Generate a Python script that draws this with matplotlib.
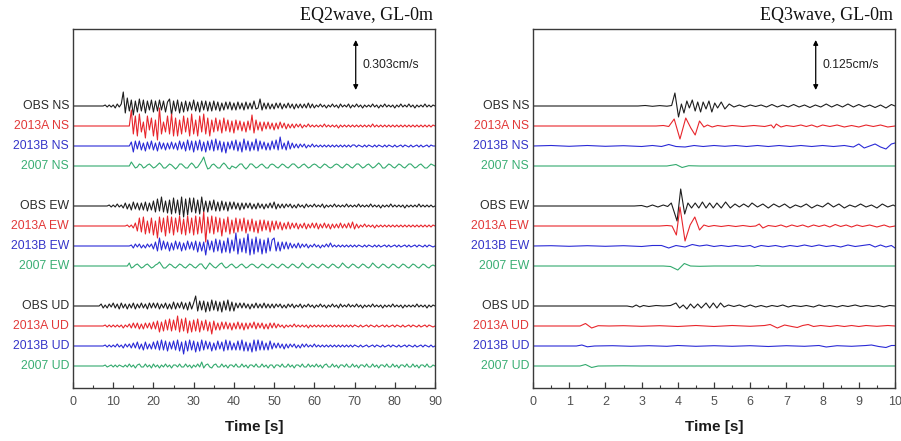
import numpy as np
import matplotlib
matplotlib.use("Agg")
import matplotlib.pyplot as plt
from matplotlib.ticker import MultipleLocator
from matplotlib.transforms import blended_transform_factory

plt.rcParams['font.family'] = ['Liberation Sans', 'DejaVu Sans']

# ---------------------------------------------------------------- data
MODELS = ['OBS', '2013A', '2013B', '2007']
COMPONENTS = ['NS', 'EW', 'UD']
TITLES = ['EQ2wave, GL-0m', 'EQ3wave, GL-0m']
SCALES_CM_S = [0.303, 0.125]          # scale-bar velocity of each panel
XMAX = [90, 10]
XTICK_STEP = [10, 1]

# EQ2: velocity sampled every 0.5 s from 0 to 90 s,
# in units of 1/50 of the 0.303 cm/s scale bar
EQ2_DT = 0.5
EQ2_OBS_NS = [
    0,0,0,0,0,0,0,0,0,0,0,0,0,0,0,0,1,-1,1,-1,
    1,-2,2,-1,2,14,-7,8,-5,6,-9,5,-6,7,-5,6,-7,5,-4,6,
    -6,5,-5,6,-4,5,-6,4,7,-9,5,-5,6,-7,4,-6,5,-5,4,-4,
    6,-5,4,-6,5,-4,5,-5,4,-5,5,-4,4,-5,3,-4,4,-3,4,-4,
    3,-4,4,-3,3,-4,4,-3,3,-3,5,-3,-2,7,-4,3,-3,3,-3,2,
    -3,3,-2,3,-3,2,-2,3,-2,2,-3,2,-2,2,-2,2,-2,3,-2,2,
    -2,1,-1,2,-1,1,-2,1,-1,2,-1,1,-2,2,-1,1,-1,2,-2,1,
    -1,2,-1,1,-2,1,-1,1,-1,2,-1,1,-2,1,-1,2,-1,1,-1,1,
    -2,1,-1,2,-1,1,-1,2,-1,1,-2,1,-1,1,-1,2,-1,1,-1,1,
    0]
EQ2_2013A_NS = [
    0,0,0,0,0,0,0,0,0,0,0,0,0,0,0,0,0,0,0,0,
    0,0,0,0,0,0,0,0,0,16,-8,10,-10,12,-6,4,-12,10,-4,8,
    -10,6,-14,18,-8,4,-6,10,-8,12,-10,8,-10,6,-8,10,-6,8,-10,12,
    -8,6,-10,10,-6,12,-8,8,-10,6,-6,8,-5,6,-7,8,-5,6,-6,5,
    -7,6,-4,5,-5,4,-6,5,-4,11,-7,6,-4,4,-5,4,-3,4,-3,3,
    -4,3,-3,4,-2,3,-3,2,-2,2,-2,2,-1,2,-2,1,-1,2,-1,1,
    -1,1,-1,1,-1,2,-1,1,-1,1,-1,1,-2,1,-1,1,-1,1,-1,1,
    -1,1,-1,1,-1,1,-1,1,-1,2,-1,1,-1,1,-1,1,-1,1,-1,1,
    -1,1,-1,1,-1,1,-1,1,-1,1,-1,1,-1,1,-1,1,-1,1,-1,1,
    0]
EQ2_2013B_NS = [
    0,0,0,0,0,0,0,0,0,0,0,0,0,0,0,0,0,0,0,0,
    0,0,0,0,0,0,0,0,0,4,-6,5,-3,5,-4,3,-5,4,-3,5,
    -4,3,-5,4,-3,3,-4,3,-3,4,-3,3,-4,5,-3,4,-5,6,-4,5,
    -6,5,-4,6,-5,4,-6,5,-4,6,-5,7,-4,5,-6,4,-7,4,-3,5,
    -4,6,-5,4,-6,7,-4,5,-5,4,-4,7,-5,5,-3,4,-4,3,-4,5,
    -3,6,-4,9,-3,3,-4,5,-3,3,-2,2,-2,2,-1,2,-2,1,-1,2,
    -1,1,-1,1,-1,1,-1,1,-1,1,-1,1,-1,1,-1,1,-1,1,-1,1,
    1,-1,1,0,-1,1,-1,1,0,-1,1,-1,1,0,-1,1,-1,1,0,-1,
    1,-1,0,1,-1,1,0,-1,1,-1,0,1,-1,1,-1,0,1,-1,1,0,
    0]
EQ2_2007_NS = [
    0,0,0,0,0,0,0,0,0,0,0,0,0,0,0,0,0,0,0,0,
    0,0,0,0,0,0,0,0,0,4,1,-2,-1,2,1,-2,-1,1,2,0,
    -2,-1,1,3,1,-2,-2,0,2,1,-1,-3,-1,2,2,0,-2,-2,1,3,
    1,-2,-1,2,5,9,2,-3,-2,1,2,0,-2,-2,1,3,1,-2,-3,0,
    -1,-2,0,2,2,-1,-3,-1,2,2,0,-2,-1,1,2,0,-2,-2,1,2,
    1,-1,-2,0,2,1,-1,-2,0,2,2,0,-2,-1,1,2,0,-2,-1,1,
    2,1,-1,-2,0,2,1,-1,-2,-1,1,2,1,-1,-2,0,2,1,-1,-2,
    0,2,2,0,-2,-1,1,2,0,-2,-1,1,3,1,-2,-2,0,2,1,-1,
    -2,0,2,1,-1,-2,0,2,2,0,-2,-1,1,2,0,-2,-2,0,2,1,
    0]
EQ2_OBS_EW = [
    0,0,0,0,0,0,0,0,0,0,0,0,0,0,0,0,0,0,1,-1,
    1,-1,2,-1,1,-2,3,-3,2,-4,4,-3,3,-4,3,-4,4,-5,3,-4,
    5,-6,7,-5,9,-6,5,-7,6,-8,8,-7,6,-9,9,-11,7,-9,8,-6,
    8,-7,6,-8,9,-6,5,-6,5,-4,6,-5,4,-5,5,-4,4,-5,4,-3,
    4,-3,3,-4,3,-3,3,-2,3,-3,2,-3,3,-2,2,-3,2,-2,3,-2,
    4,-3,2,-2,2,-2,2,-1,2,-2,1,-2,2,-1,1,-2,2,-1,1,-1,
    2,-1,1,-1,2,-2,1,-1,1,-1,2,-1,1,-1,1,-1,2,-1,1,-1,
    1,-1,2,-1,1,-1,1,-1,2,-1,1,-1,1,-2,1,-1,1,-1,2,-1,
    1,-1,1,-1,1,-2,1,-1,1,-1,1,-1,2,-1,1,-1,1,-1,1,-1,
    0]
EQ2_2013A_EW = [
    0,0,0,0,0,0,0,0,0,0,0,0,0,0,0,0,0,0,0,0,
    0,0,0,0,0,0,0,1,-1,1,-2,3,-5,8,-6,9,-8,5,-7,8,
    -9,5,-12,9,-6,8,-10,10,-7,9,-9,8,-6,10,-8,7,-9,10,-7,8,
    -9,10,-8,9,-7,14,-16,9,-7,10,-8,9,-6,8,-10,7,-6,9,-8,6,
    -7,8,-6,7,-5,8,-7,6,-5,7,-6,5,-7,6,-5,6,-4,5,-6,5,
    -4,5,-3,4,-4,3,-3,4,-3,3,-2,3,-3,2,-2,3,-3,2,-2,3,
    -2,3,-3,2,-2,3,-2,2,-3,2,-2,2,-2,3,-2,2,-2,3,-2,4,
    -3,2,-2,1,-1,2,-1,1,-1,1,-2,1,-1,1,-1,1,-1,1,-1,1,
    -1,1,-1,1,-1,1,-1,1,-1,1,-1,1,-1,1,-1,1,-1,1,-1,1,
    0]
EQ2_2013B_EW = [
    0,0,0,0,0,0,0,0,0,0,0,0,0,0,0,0,0,0,0,0,
    0,0,0,0,0,0,0,0,0,1,-2,2,-1,2,-2,1,-2,2,-1,2,
    -3,4,-5,8,-4,5,-3,4,-5,3,-4,5,-3,4,-5,3,-4,5,-3,4,
    -4,5,-6,4,-5,4,-9,6,-4,5,-6,7,-5,6,-7,5,-6,8,-7,6,
    -5,13,-8,7,-6,8,-7,12,-9,7,-8,9,-6,7,-8,6,-7,8,-5,6,
    8,-5,4,-5,4,-3,4,-3,3,-2,2,-2,3,-2,2,-1,2,-2,1,-1,
    2,-1,1,-2,1,-1,2,-1,3,-1,1,-1,1,-1,1,-1,1,-1,1,-1,
    1,-1,1,0,-1,1,-1,1,0,-1,1,-1,1,-1,0,1,-1,1,-1,0,
    1,-1,1,-1,0,1,-1,1,-1,0,1,-1,1,0,-1,1,-1,1,0,-1,
    0]
EQ2_2007_EW = [
    0,0,0,0,0,0,0,0,0,0,0,0,0,0,0,0,0,0,0,0,
    0,0,0,0,0,0,0,0,3,-2,-1,1,2,0,-2,-1,1,2,0,-2,
    -1,1,2,4,1,-2,-2,0,2,1,-1,-2,0,2,1,-1,-2,0,2,1,
    -1,-2,0,2,2,-1,-3,0,3,1,-1,-2,0,2,3,0,-2,-1,1,2,
    0,-2,-1,1,2,0,-2,-1,1,2,1,-1,-2,0,2,1,-1,-2,0,2,
    1,-1,-2,0,2,1,-1,-2,0,2,1,-1,-2,0,3,1,-1,-2,0,2,
    1,-1,-2,0,2,1,-1,-2,0,2,1,-1,-2,0,3,1,-1,-2,0,2,
    1,-1,-2,0,2,1,-1,-2,0,3,1,-1,-2,0,2,1,-1,-2,0,2,
    1,-1,-2,0,2,1,-1,-2,0,2,1,-1,-2,0,2,1,-1,-2,0,1,
    0]
EQ2_OBS_UD = [
    0,0,0,0,0,0,0,0,0,0,0,0,0,0,2,-2,1,-2,2,-1,
    3,-2,2,-3,3,-2,2,-3,2,-2,3,-3,2,-2,3,-2,2,-3,3,-2,
    3,-2,3,-3,2,-2,3,-3,2,-3,4,-3,3,-2,4,-3,3,-4,4,-3,
    3,10,-5,5,-4,5,-6,4,-5,6,-4,5,-5,4,-6,5,-4,6,-5,4,
    -5,3,-2,3,-2,3,-2,2,-3,2,-2,3,-2,2,-2,3,-2,2,-2,2,
    -2,2,-1,2,-2,1,-2,2,-1,2,-2,1,-1,2,-2,1,-1,2,-1,1,
    -2,1,-1,2,-1,1,-2,1,-1,2,-1,1,-2,2,-1,1,-1,2,-1,1,
    -1,2,-1,1,-2,1,-1,1,-1,2,-1,1,-1,1,-2,1,-1,1,-1,2,
    -1,1,-1,1,-2,1,-1,1,-1,1,-1,2,-1,1,-1,1,-2,1,-1,1,
    0]
EQ2_2013A_UD = [
    0,0,0,0,0,0,0,0,0,0,0,0,0,0,0,0,1,-1,1,-1,
    1,-1,1,-1,1,-2,1,-1,2,-2,3,-2,3,-3,2,-3,3,-2,3,-3,
    4,-3,5,-6,4,-5,6,-4,7,-5,6,-4,10,-6,7,-5,8,-7,5,-6,
    6,-5,7,-6,5,-4,6,-5,4,-8,5,-4,3,-4,4,-3,4,-3,3,-4,
    3,-3,4,-3,3,-4,3,-3,3,-2,4,-3,3,-2,3,-3,2,-3,3,-2,
    3,-2,2,-1,1,-2,1,-1,1,-1,2,-1,1,-1,1,-1,1,-2,1,-1,
    1,-1,1,-1,1,-1,1,-1,1,-1,1,-1,1,-1,1,-1,1,-1,1,-1,
    1,0,-1,1,-1,0,1,-1,1,0,-1,1,-1,0,1,-1,1,-1,0,1,
    -1,1,0,-1,1,-1,0,1,-1,1,0,-1,1,-1,0,1,-1,1,0,-1,
    0]
EQ2_2013B_UD = [
    0,0,0,0,0,0,0,0,0,0,0,0,0,0,0,0,1,-1,1,-1,
    1,-1,2,-1,1,-2,2,-1,2,-2,3,-2,4,-3,2,-4,4,-3,2,-3,
    4,-3,5,-4,6,-4,5,-5,4,-3,5,-4,6,-5,4,-8,5,-5,6,-4,
    5,-6,4,-5,6,-4,5,-3,4,-5,3,-4,5,-3,4,-5,6,-4,5,-4,
    3,-4,5,-4,6,-5,4,-5,3,-6,6,-5,6,-4,5,-4,3,-4,5,-3,
    3,-2,3,-2,2,-3,2,-2,2,-1,2,-2,1,-2,2,-1,2,-1,1,-1,
    2,-1,1,-1,1,-1,1,-1,1,-1,1,-1,1,-1,1,-1,1,-1,1,-1,
    1,0,-1,1,-1,0,1,-1,0,1,-1,1,0,-1,1,-1,0,1,-1,1,
    0,-1,1,-1,0,1,-1,1,0,-1,1,-1,0,1,-1,1,0,-1,1,-1,
    0]
EQ2_2007_UD = [
    0,0,0,0,0,0,0,0,0,0,0,0,0,0,0,0,1,-1,0,1,
    -1,1,-1,1,0,-1,1,-1,2,-1,1,-2,1,2,-1,-1,2,-1,1,-2,
    2,-1,1,-2,1,-1,2,-1,1,-2,1,1,-1,2,-1,-1,2,-1,1,-2,
    1,-1,2,-1,4,-2,1,2,-1,-2,1,2,-1,-1,2,-1,1,-2,1,1,
    -1,2,-1,-1,2,-1,1,-2,1,1,-1,2,-1,-1,2,-1,1,-2,1,1,
    -2,1,1,-1,2,-1,-1,2,-1,1,-2,1,1,-1,2,-1,-1,2,-1,1,
    -1,2,-1,1,-2,1,2,-1,-1,2,-1,1,-2,1,1,-1,2,-1,-1,2,
    -1,1,-2,1,1,-1,2,-1,-1,2,-1,1,-2,1,1,-1,2,-1,-1,2,
    -1,1,-2,1,1,-1,2,-1,-1,2,-1,1,-2,1,1,-1,2,-1,-1,1,
    0]

# EQ3: turning points (time [s], velocity in 1/50 of the 0.125 cm/s scale bar)
EQ3_OBS_NS_T = [0, 2.9, 3.1, 3.3, 3.5, 3.7, 3.83, 3.92, 4.02, 4.1, 4.17, 4.25, 4.32, 4.4, 4.48, 4.55,
                4.63, 4.7, 4.78, 4.86, 4.94, 5.02, 5.1, 5.2, 5.3, 5.42, 5.55, 5.7, 5.85, 6.0, 6.15, 6.3,
                6.45, 6.6, 6.75, 6.9, 7.05, 7.2, 7.35, 7.5, 7.65, 7.8, 7.95, 8.1, 8.25, 8.4, 8.55, 8.7,
                8.85, 9.0, 9.15, 9.3, 9.45, 9.6, 9.75, 9.9, 10]
EQ3_OBS_NS_V = [0, 0, 0.5, -0.3, 0.4, -0.2, 0.5, 13, -11, 2, -7, 5, -2, 6, -5, 4,
                -6, 4, -3, 5, -6, 3, -2, 4, -3, 2, -1, 1, -1, 1, -0.5, 1,
                -1, 1.5, -1, 1, -1, 1.5, -1, 1, -1.5, 1, -1, 2, -1, 1.5, -1, 2,
                -1, 1.5, -1, 1, -1.5, 1, -2, 1.5, 0]
EQ3_2013A_NS_T = [0, 3.4, 3.6, 3.75, 3.9, 4.06, 4.22, 4.36, 4.48, 4.6, 4.72, 4.82, 4.95, 5.1, 5.3, 5.5,
                  5.8, 6.1, 6.4, 6.58, 6.65, 6.72, 6.85, 7.0, 7.2, 7.4, 7.55, 7.7, 7.85, 8.0, 8.2, 8.4,
                  8.6, 8.8, 9.0, 9.2, 9.4, 9.6, 9.8, 10]
EQ3_2013A_NS_V = [0, 0, 0.5, -0.5, 7, -13, 8, -2, -9, 5, -1, 1, -1, 0.5, -0.5, 0.5,
                  -0.5, 0.5, -0.5, 1, -2, 2, -1, 0.5, -0.5, 1, -0.5, 1, -1, 1, -0.5, 1,
                  -1, 0.5, -1, 1, -0.5, 1, -1, 0]
EQ3_2013B_NS_T = [0, 0.5, 1.0, 1.5, 2.0, 2.5, 3.0, 3.3, 3.55, 3.75, 3.95, 4.2, 4.45, 4.7, 5.0, 5.3,
                  5.6, 5.9, 6.2, 6.5, 6.8, 7.1, 7.4, 7.7, 8.0, 8.3, 8.6, 8.85, 9.0, 9.15, 9.3, 9.45,
                  9.6, 9.75, 9.9, 10]
EQ3_2013B_NS_V = [0, 0.5, -0.3, 0.5, -0.3, 0.3, -0.5, 0.5, -0.5, 1.5, -0.5, -1, 0.5, -0.5, 0.5, -0.3,
                  0.5, -0.5, 0.5, -0.5, 0.5, -0.5, 0.5, -0.5, 0.5, -0.5, 0.5, -1, 2, -2, 0, 2,
                  -1, -3, 2, 3]
EQ3_2007_NS_T = [0, 3.7, 3.95, 4.12, 4.3, 4.6, 10]
EQ3_2007_NS_V = [0, 0, 1.5, -1.5, 0.3, 0, 0]
EQ3_OBS_EW_T = [0, 2.8, 3.0, 3.15, 3.3, 3.45, 3.6, 3.72, 3.82, 3.98, 4.08, 4.19, 4.28, 4.38, 4.48, 4.58,
                4.68, 4.78, 4.88, 4.98, 5.08, 5.2, 5.32, 5.45, 5.58, 5.7, 5.82, 5.95, 6.05, 6.2, 6.35, 6.5,
                6.65, 6.8, 6.95, 7.1, 7.25, 7.4, 7.55, 7.7, 7.85, 8.0, 8.15, 8.3, 8.45, 8.6, 8.75, 8.9,
                9.05, 9.2, 9.35, 9.5, 9.65, 9.8, 9.95, 10]
EQ3_OBS_EW_V = [0, 0, 0.5, -1, 1, -1, 1, -0.5, 3, -15, 17, -8, 3, -2, 3, -2,
                4, -2, 3, -2, 3, -2, 4, -2, 2, -1, 2, -1, 3, -1, 2, -2,
                2, -1, 2, -2, 1, -1, 2, -2, 1, -1, 3, -1, 2, -2, 1, -1,
                2, -1, 1, -2, 2, -1, 1, 0]
EQ3_2013A_EW_T = [0, 3.5, 3.7, 3.84, 3.96, 4.06, 4.2, 4.34, 4.47, 4.6, 4.72, 4.85, 5.0, 5.2, 5.4, 5.6,
                  5.8, 6.0, 6.15, 6.25, 6.35, 6.5, 6.7, 6.85, 7.0, 7.15, 7.3, 7.45, 7.6, 7.75, 7.9, 8.05,
                  8.2, 8.35, 8.5, 8.65, 8.8, 8.95, 9.1, 9.3, 9.5, 9.7, 9.85, 10]
EQ3_2013A_EW_V = [0, 0, 0.5, 0, -9, 19, -15, 1, 9, -4, 1, -0.5, 0.5, -0.5, 0.5, -0.5,
                  0.5, -0.5, 0, 2, -2, 0.5, -0.5, 1, -1, 1, -0.5, 1, -1, 1, -0.5, 1,
                  -1, 1.5, -0.5, 1, -1, 1, -0.5, 1, -1, 1, -1, 0]
EQ3_2013B_EW_T = [0, 0.5, 1.0, 1.5, 2.0, 2.5, 3.0, 3.3, 3.55, 3.75, 3.95, 4.2, 4.4, 4.6, 4.8, 5.0,
                  5.2, 5.4, 5.6, 5.8, 6.0, 6.12, 6.3, 6.5, 6.7, 6.9, 7.1, 7.3, 7.5, 7.7, 7.9, 8.1,
                  8.3, 8.5, 8.7, 8.9, 9.1, 9.3, 9.45, 9.6, 9.75, 9.9, 10]
EQ3_2013B_EW_V = [0, 0.3, -0.3, 0.3, -0.3, 0.3, -0.5, 0.5, 0.5, -2, 0.5, -1, 1.5, 0, 1, -0.5,
                  0.5, -0.5, 0.5, -0.5, 0.5, -1.5, 0.5, -0.5, 0.5, -1, 0.5, -0.5, 1, -0.5, 1, -0.5,
                  0.5, -1, 1, -0.5, 0.5, 1.5, -1, 1, -1, 0.5, -2]
EQ3_2007_EW_T = [0, 3.6, 3.8, 4.0, 4.18, 4.35, 4.6, 5.0, 6.1, 6.2, 6.3, 10]
EQ3_2007_EW_V = [0, 0, -0.5, -4, 2.5, 0, -0.3, 0, 0, 0.5, 0, 0]
EQ3_OBS_UD_T = [0, 2.6, 2.75, 2.85, 2.95, 3.05, 3.2, 3.4, 3.6, 3.8, 3.95, 4.05, 4.15, 4.25, 4.35, 4.45,
                4.55, 4.65, 4.78, 4.88, 4.98, 5.08, 5.18, 5.28, 5.4, 5.55, 5.7, 5.85, 6.0, 6.15, 6.3, 6.45,
                6.6, 6.75, 6.9, 7.05, 7.2, 7.4, 7.55, 7.75, 7.9, 8.05, 8.2, 8.4, 8.55, 8.7, 8.9, 9.05,
                9.2, 9.4, 9.55, 9.7, 9.85, 10]
EQ3_OBS_UD_V = [0, 0, -1, 1, -1, 0.5, -0.5, 0.5, 0, 0.5, 3, -2, 1, -3, 2, -2,
                2, -2, 3, -2, 3, -2, 3, -1, 1, -0.5, 1, -1, 1, -1, 0.5, -1,
                0.5, -0.5, 1, -1, 0.5, -0.5, 0.5, -1, 1, -0.5, 0.5, -1, 0.5, -0.5, 1, -0.5,
                0.5, -0.5, 0.5, -1, 0.5, 0]
EQ3_2013A_UD_T = [0, 1.3, 1.45, 1.62, 1.8, 2.1, 2.5, 3.0, 3.5, 4.0, 4.5, 5.0, 5.5, 6.0, 6.4, 6.55,
                  6.75, 6.95, 7.15, 7.3, 7.45, 7.6, 7.75, 7.95, 8.2, 8.4, 8.6, 8.8, 9.0, 9.2, 9.5, 9.8, 10]
EQ3_2013A_UD_V = [0, 0, 2.5, -2, 0.3, 0, 0.3, -0.3, 0.3, -0.5, 0.5, -0.5, 0.5, -0.3, 0.5, 1.5,
                  -2, 1, -0.5, -1.5, 0.5, 1.5, -0.5, 0.5, -0.5, 0.5, -0.5, 0.5, -0.5, 0.5, -0.3, 0.5, 0]
EQ3_2013B_UD_T = [0, 1.2, 1.35, 1.5, 1.7, 2.2, 2.7, 3.2, 3.7, 4.0, 4.5, 5.0, 5.5, 6.0, 6.5, 7.0,
                  7.5, 7.9, 8.1, 8.4, 8.8, 9.2, 9.35, 9.55, 9.75, 9.9, 10]
EQ3_2013B_UD_V = [0, 0, 1, -0.8, 0, 0.3, -0.3, 0.3, -0.3, 0.5, -0.3, 0.3, -0.3, 0.3, -0.5, 0.3,
                  -0.3, 0.5, -1, 0.3, -0.3, 0.5, 1, -0.5, -1.5, 0.5, 0.5]
EQ3_2007_UD_T = [0, 1.3, 1.45, 1.62, 1.8, 2.5, 3.0, 10]
EQ3_2007_UD_V = [0, 0, 1.5, -1.5, 0, 0.2, 0, 0]

EQ2_TRACES = {
    ('OBS', 'NS'): EQ2_OBS_NS, ('2013A', 'NS'): EQ2_2013A_NS,
    ('2013B', 'NS'): EQ2_2013B_NS, ('2007', 'NS'): EQ2_2007_NS,
    ('OBS', 'EW'): EQ2_OBS_EW, ('2013A', 'EW'): EQ2_2013A_EW,
    ('2013B', 'EW'): EQ2_2013B_EW, ('2007', 'EW'): EQ2_2007_EW,
    ('OBS', 'UD'): EQ2_OBS_UD, ('2013A', 'UD'): EQ2_2013A_UD,
    ('2013B', 'UD'): EQ2_2013B_UD, ('2007', 'UD'): EQ2_2007_UD,
}
EQ3_TRACES = {
    ('OBS', 'NS'): (EQ3_OBS_NS_T, EQ3_OBS_NS_V), ('2013A', 'NS'): (EQ3_2013A_NS_T, EQ3_2013A_NS_V),
    ('2013B', 'NS'): (EQ3_2013B_NS_T, EQ3_2013B_NS_V), ('2007', 'NS'): (EQ3_2007_NS_T, EQ3_2007_NS_V),
    ('OBS', 'EW'): (EQ3_OBS_EW_T, EQ3_OBS_EW_V), ('2013A', 'EW'): (EQ3_2013A_EW_T, EQ3_2013A_EW_V),
    ('2013B', 'EW'): (EQ3_2013B_EW_T, EQ3_2013B_EW_V), ('2007', 'EW'): (EQ3_2007_EW_T, EQ3_2007_EW_V),
    ('OBS', 'UD'): (EQ3_OBS_UD_T, EQ3_OBS_UD_V), ('2013A', 'UD'): (EQ3_2013A_UD_T, EQ3_2013A_UD_V),
    ('2013B', 'UD'): (EQ3_2013B_UD_T, EQ3_2013B_UD_V), ('2007', 'UD'): (EQ3_2007_UD_T, EQ3_2007_UD_V),
}

# ---------------------------------------------------------------- style
COLORS = {'OBS': '#1e1e1e', '2013A': '#e8262c', '2013B': '#2a2ad6', '2007': '#33aa6e'}
LABEL_COLORS = {'OBS': '#2a2a2a', '2013A': '#e23838', '2013B': '#3434c8', '2007': '#3aae74'}

W, H = 901, 441
fig = plt.figure(figsize=(W / 100, H / 100), dpi=100)

AX_BOTTOM_PX, AX_TOP_PX = 388, 29
AX_LEFT_PX = [73, 533]
AX_W_PX = 362
H_UNITS = AX_BOTTOM_PX - AX_TOP_PX      # axes height in 1/50-scale-bar units


def baseline(model, comp):
    return 282 - 100 * COMPONENTS.index(comp) - 20 * MODELS.index(model)


for p in range(2):
    unit = SCALES_CM_S[p] / 50.0    # cm/s per unit
    ax = fig.add_axes([AX_LEFT_PX[p] / W, (H - AX_BOTTOM_PX) / H,
                       AX_W_PX / W, H_UNITS / H])
    for comp in COMPONENTS:
        for model in MODELS:
            if p == 0:
                v = np.asarray(EQ2_TRACES[(model, comp)], dtype=float)
                t = EQ2_DT * np.arange(len(v))
            else:
                tt, vv = EQ3_TRACES[(model, comp)]
                t = np.asarray(tt, dtype=float)
                v = np.asarray(vv, dtype=float)
            vel = v * unit                       # cm/s
            y0 = baseline(model, comp) * unit
            ax.plot(t, y0 + vel, color=COLORS[model], lw=0.8,
                    solid_joinstyle='round')
            ax.text(-0.011, y0, f'{model} {comp}', color=LABEL_COLORS[model],
                    fontsize=8.8, ha='right', va='center',
                    transform=blended_transform_factory(ax.transAxes, ax.transData))

    ax.set_xlim(0, XMAX[p])
    ax.set_ylim(0, H_UNITS * unit)
    ax.set_yticks([])
    ax.xaxis.set_major_locator(MultipleLocator(XTICK_STEP[p]))
    ax.xaxis.set_minor_locator(MultipleLocator(XTICK_STEP[p] / 2))
    ax.tick_params(axis='x', which='both', direction='in', top=False,
                   colors='#3a3a3a', labelcolor='#505050', labelsize=9, pad=6)
    ax.tick_params(axis='x', which='major', length=4, width=0.9)
    ax.tick_params(axis='x', which='minor', length=2.5, width=0.8)
    for s in ax.spines.values():
        s.set_color('#3a3a3a')
        s.set_linewidth(1.0)

    # scale bar
    xs = XMAX[p] * 0.781
    ytop = (AX_BOTTOM_PX - 40) * unit
    ybot = ytop - SCALES_CM_S[p]
    ax.annotate('', xy=(xs, ytop), xytext=(xs, ybot),
                arrowprops=dict(arrowstyle='<|-|>', color='black', lw=0.9,
                                mutation_scale=7, shrinkA=0, shrinkB=0))
    ax.text(xs + XMAX[p] * 0.02, (ytop + ybot) / 2, f'{SCALES_CM_S[p]}cm/s',
            fontsize=8.8, ha='left', va='center', color='#222222')

    ax.text(0.995, 1.026, TITLES[p], transform=ax.transAxes, ha='right',
            va='baseline', fontsize=13, family=['Liberation Serif', 'DejaVu Serif'],
            color='#111111')
    ax.text(0.5, -0.108, 'Time [s]', transform=ax.transAxes, ha='center',
            va='center', fontsize=11, fontweight='bold', color='#1a1a1a')

fig.savefig('out.png', dpi=100)
